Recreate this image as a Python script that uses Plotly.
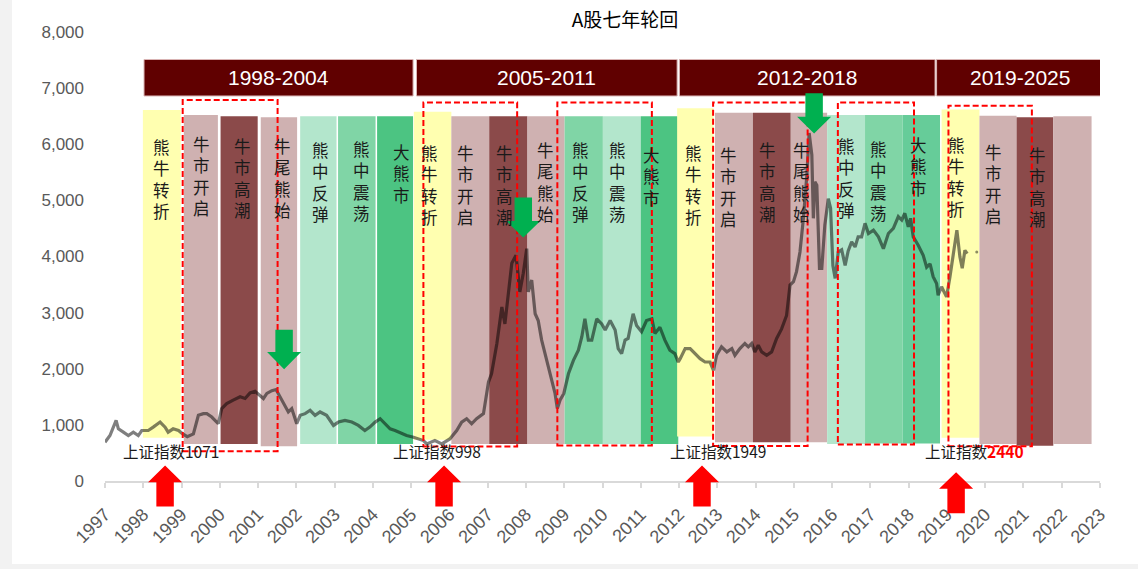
import plotly.graph_objects as go

# ---------------- data ----------------
index_dates = [
    1997.00, 1997.13, 1997.29, 1997.35, 1997.48, 1997.61, 1997.74, 1997.87, 1997.96,
    1998.13, 1998.26, 1998.44, 1998.57, 1998.65, 1998.78, 1998.92,
    1999.03, 1999.15, 1999.31, 1999.44, 1999.57, 1999.66, 1999.79, 1999.96,
    2000.05, 2000.18, 2000.35, 2000.53, 2000.66, 2000.79, 2000.92,
    2001.03, 2001.14, 2001.23, 2001.36, 2001.47, 2001.57, 2001.70, 2001.79, 2001.88,
    2002.01, 2002.10, 2002.23, 2002.36, 2002.49, 2002.62, 2002.79, 2002.97,
    2003.10, 2003.27, 2003.45, 2003.62, 2003.79, 2003.92,
    2004.06, 2004.19, 2004.32, 2004.45, 2004.58, 2004.75, 2004.88,
    2005.06, 2005.19, 2005.32, 2005.41, 2005.62, 2005.80,
    2006.01, 2006.19, 2006.32, 2006.45, 2006.58, 2006.71, 2006.89,
    2007.02, 2007.10, 2007.24, 2007.37, 2007.45, 2007.54, 2007.63, 2007.74, 2007.84, 2007.93,
    2008.02, 2008.06, 2008.15, 2008.24, 2008.32, 2008.41, 2008.50, 2008.58, 2008.67, 2008.76,
    2008.82, 2008.89, 2008.99,
    2009.11, 2009.24, 2009.37, 2009.46, 2009.54, 2009.63, 2009.72, 2009.85, 2009.98,
    2010.07, 2010.20, 2010.33, 2010.41, 2010.50, 2010.59, 2010.67, 2010.80, 2010.89,
    2011.02, 2011.15, 2011.29, 2011.37, 2011.50, 2011.63, 2011.76, 2011.89, 2011.98,
    2012.03, 2012.16, 2012.29, 2012.42, 2012.55, 2012.68, 2012.81, 2012.90, 2012.98,
    2013.11, 2013.25, 2013.38, 2013.46, 2013.59, 2013.72, 2013.81, 2013.90, 2013.98,
    2014.07, 2014.16, 2014.29, 2014.42, 2014.55, 2014.68, 2014.81, 2014.90, 2014.99,
    2015.07, 2015.16, 2015.25, 2015.34, 2015.40, 2015.47, 2015.51, 2015.55, 2015.60,
    2015.67, 2015.73, 2015.81, 2015.90, 2015.96,
    2016.02, 2016.08, 2016.16, 2016.25, 2016.34, 2016.42, 2016.51, 2016.60, 2016.68,
    2016.77, 2016.86, 2016.95,
    2017.08, 2017.21, 2017.34, 2017.47, 2017.60, 2017.73, 2017.82, 2017.90, 2017.99,
    2018.05, 2018.12, 2018.25, 2018.38, 2018.47, 2018.56, 2018.64, 2018.73, 2018.77,
    2018.86, 2018.99,
    2019.08, 2019.17, 2019.26, 2019.34, 2019.40, 2019.47, 2019.53,
]
index_values = [
    690, 810, 1080, 930, 870, 810, 870, 810, 900,
    900, 960, 1050, 960, 870, 930, 900,
    840, 790, 840, 1170, 1200, 1200, 1140, 1020,
    1290, 1380, 1440, 1500, 1470, 1570, 1600,
    1530, 1470, 1560, 1610, 1630, 1500, 1350, 1230, 1290,
    1020, 1170, 1200, 1260, 1170, 1230, 1170, 990,
    1050, 1080, 1050, 990, 900, 960,
    1050, 1110, 1020, 930, 900, 840, 810,
    780, 750, 720, 660, 720, 660,
    750, 900, 1050, 1110, 1020, 1110, 1200,
    1760, 1910, 2450, 3100, 2800, 3340, 3880, 4020, 3370, 3700,
    4140, 3370, 3580, 2980, 2860, 2510, 2270, 2030, 1790, 1560,
    1290, 1440, 1560,
    1910, 2150, 2330, 2570, 2890, 2510, 2510, 2890, 2800,
    2690, 2860, 2690, 2360, 2270, 2510, 2540, 2980, 2770,
    2660, 2860, 2890, 2630, 2740, 2510, 2330, 2270, 2120,
    2180, 2360, 2360, 2270, 2180, 2120, 2120, 1970, 2240,
    2390, 2300, 2360, 2240, 2360, 2450, 2390, 2450, 2300,
    2420, 2300, 2240, 2300, 2540, 2710, 2950, 3490, 3550,
    3730, 4080, 4680, 5450, 6200, 5810, 4680, 5330, 5270,
    3790, 3790, 4560, 5030, 4860,
    3840, 3610, 4080, 4120, 3840, 4100, 4260, 4170, 4350,
    4350, 4590, 4410,
    4470, 4350, 4140, 4410, 4500, 4710, 4650, 4770, 4530,
    4680, 4350, 4200, 4020, 3810, 3870, 3640, 3520, 3310,
    3460, 3280,
    3640, 4110, 4470, 3990, 3790, 4110, 4050,
]
last_date = [2019.78]
last_value = [4080]

phase_names = [
    "熊牛转折", "牛市开启", "牛市高潮", "牛尾熊始", "熊中反弹", "熊中震荡", "大熊市",
    "熊牛转折", "牛市开启", "牛市高潮", "牛尾熊始", "熊中反弹", "熊中震荡", "大熊市",
    "熊牛转折", "牛市开启", "牛市高潮", "牛尾熊始", "熊中反弹", "熊中震荡", "大熊市",
    "熊牛转折", "牛市开启", "牛市高潮", "",
]
phase_start = [
    1997.99, 1999.06, 2000.02, 2001.07, 2002.10, 2003.09, 2004.11,
    2005.07, 2006.05, 2007.04, 2008.04, 2009.01, 2010.01, 2011.00,
    2011.95, 2012.94, 2013.93, 2014.92, 2015.87, 2016.86, 2017.84,
    2018.86, 2019.85, 2020.82, 2021.78,
]
phase_end = [
    1998.98, 1999.95, 2000.99, 2002.02, 2003.05, 2004.07, 2005.05,
    2006.05, 2007.04, 2008.04, 2009.01, 2010.01, 2011.00, 2011.98,
    2012.90, 2013.93, 2014.92, 2015.87, 2016.86, 2017.84, 2018.82,
    2019.85, 2020.82, 2021.78, 2022.78,
]
phase_top = [
    6610, 6520, 6500, 6480, 6500, 6500, 6500,
    6580, 6500, 6500, 6500, 6500, 6500, 6500,
    6640, 6560, 6560, 6560, 6520, 6520, 6520,
    6620, 6510, 6480, 6500,
]
phase_bottom = [
    770, 660, 660, 620, 660, 660, 660,
    735, 660, 660, 660, 660, 660, 660,
    795, 690, 690, 690, 660, 670, 670,
    770, 660, 630, 660,
]
phase_colors = [
    "#FFFFB0", "#CFB1B1", "#8B4A4A", "#CFB1B1", "#B3E6CC", "#80D5A6", "#4CC482",
    "#FFFFB0", "#CFB1B1", "#8B4A4A", "#CFB1B1", "#80D5A6", "#B3E6CC", "#4CC482",
    "#FFFFB0", "#CFB1B1", "#8B4A4A", "#CFB1B1", "#B3E6CC", "#80D5A6", "#66CC99",
    "#FFFFB0", "#CFB1B1", "#8B4A4A", "#CFB1B1",
]
label_x = [
    1998.48, 1999.53, 2000.60, 2001.64, 2002.64, 2003.71, 2004.75,
    2005.49, 2006.43, 2007.43, 2008.50, 2009.43, 2010.40, 2011.29,
    2012.37, 2013.29, 2014.32, 2015.19, 2016.38, 2017.21, 2018.25,
    2019.25, 2020.21, 2021.36, 2022.30,
]
label_y = [
    5380, 5430, 5400, 5400, 5320, 5340, 5480,
    5270, 5270, 5270, 5320, 5320, 5320, 5430,
    5270, 5240, 5320, 5320, 5400, 5340, 5600,
    5420, 5300, 5230, 5300,
]

era_labels = ["1998-2004", "2005-2011", "2012-2018", "2019-2025"]
era_start = [1998.02, 2005.14, 2012.01, 2018.73]
era_end = [2005.05, 2011.95, 2018.69, 2023.07]
era_top = 7510
era_bottom = 6860

box_x0 = [1999.03, 2005.32, 2008.82, 2012.89, 2016.15, 2019.04]
box_x1 = [2001.51, 2007.77, 2011.29, 2015.36, 2018.14, 2021.22]
box_y0 = [532, 615, 633, 624, 651, 621]
box_y1 = [6790, 6745, 6745, 6745, 6745, 6685]

bottom_names = ["上证指数", "上证指数", "上证指数", "上证指数"]
bottom_points = ["1071", "998", "1949", "2440"]
bottom_x = [1998.72, 2005.67, 2013.02, 2019.72]
bottom_y = 526

red_arrow_x = [1998.57, 2005.86, 2012.60, 2019.24]
red_arrow_tip = [276, 276, 276, 157]
red_arrow_neck = [-21, -21, -21, -139]
red_arrow_tail = [-455, -455, -455, -574]

green_arrow_x = [2001.68, 2007.93, 2015.53]
green_arrow_tail = [2697, 5052, 6907]
green_arrow_neck = [2298, 4634, 6489]
green_arrow_tip = [1989, 4338, 6193]

years = list(range(1997, 2024))

# ---------------- figure ----------------
Y_MAX = 8000
HEAD_HW = 0.445
SHAFT_HW = 0.228
LATIN = "Liberation Sans, Arial, Noto Sans CJK SC, sans-serif"
CJK = "Noto Sans CJK SC, Liberation Sans, sans-serif"

fig = go.Figure()

fig.add_trace(go.Bar(
    x=[(s + e) / 2 for s, e in zip(phase_start, phase_end)],
    y=[t - b for t, b in zip(phase_top, phase_bottom)],
    base=phase_bottom,
    width=[e - s for s, e in zip(phase_start, phase_end)],
    marker=dict(color=phase_colors, line=dict(width=0)),
    hoverinfo="skip",
))

fig.add_trace(go.Scatter(
    x=index_dates, y=index_values, mode="lines",
    line=dict(color="rgba(0,0,0,0.5)", width=3.2),
    hoverinfo="skip",
))
fig.add_trace(go.Scatter(
    x=last_date, y=last_value, mode="markers",
    marker=dict(color="rgba(0,0,0,0.45)", size=3),
    hoverinfo="skip",
))

shapes = []
# white card behind the chart
shapes.append(dict(type="rect", xref="paper", yref="paper",
                   x0=(12 - 105) / 995, x1=(1138 - 105) / 995,
                   y0=(481 - 564) / 449, y1=481 / 449,
                   fillcolor="white", line=dict(width=0), layer="below"))
# era headers
for s, e in zip(era_start, era_end):
    shapes.append(dict(type="rect", xref="x", yref="y", x0=s, x1=e,
                       y0=era_bottom, y1=era_top, fillcolor="#600000",
                       line=dict(color="#d9b3b3", width=1)))
# dashed boxes
for x0, x1, y0, y1 in zip(box_x0, box_x1, box_y0, box_y1):
    shapes.append(dict(type="rect", xref="x", yref="y", x0=x0, x1=x1, y0=y0, y1=y1,
                       fillcolor="rgba(0,0,0,0)",
                       line=dict(color="#FF0000", width=2, dash="6px,3px")))


def up_arrow(cx, tip, neck, tail):
    return (f"M {cx - SHAFT_HW},{tail} L {cx - SHAFT_HW},{neck} L {cx - HEAD_HW},{neck} "
            f"L {cx},{tip} L {cx + HEAD_HW},{neck} L {cx + SHAFT_HW},{neck} "
            f"L {cx + SHAFT_HW},{tail} Z")


for cx, tip, neck, tail in zip(red_arrow_x, red_arrow_tip, red_arrow_neck, red_arrow_tail):
    shapes.append(dict(type="path", xref="x", yref="paper",
                       path=up_arrow(cx, tip / Y_MAX, neck / Y_MAX, tail / Y_MAX),
                       fillcolor="#FF0000", line=dict(width=0)))
for cx, tip, neck, tail in zip(green_arrow_x, green_arrow_tip, green_arrow_neck, green_arrow_tail):
    shapes.append(dict(type="path", xref="x", yref="y",
                       path=up_arrow(cx, tip, neck, tail),
                       fillcolor="#00B050", line=dict(width=0)))

annotations = []
for name, lx, ly in zip(phase_names, label_x, label_y):
    if not name:
        continue
    annotations.append(dict(x=lx, y=ly, xref="x", yref="y", showarrow=False,
                            text="<br>".join(name), xanchor="center", yanchor="middle",
                            font=dict(family=CJK, size=16.5, color="#1a1a1a")))
for lab, s, e in zip(era_labels, era_start, era_end):
    annotations.append(dict(x=(s + e) / 2, y=(era_top + era_bottom) / 2,
                            xref="x", yref="y", showarrow=False, text=lab,
                            font=dict(family=LATIN, size=21, color="white")))
for i, (nm, pt, bx) in enumerate(zip(bottom_names, bottom_points, bottom_x)):
    if i == len(bottom_points) - 1:
        txt = f"{nm}<b><span style='color:#FF0000'>{pt}</span></b>"
    else:
        txt = f"{nm}{pt}"
    annotations.append(dict(x=bx, y=bottom_y, xref="x", yref="y", showarrow=False,
                            text=txt, xanchor="center", yanchor="middle",
                            font=dict(family=CJK, size=15.5, color="#1a1a1a")))

fig.update_layout(
    width=1138, height=569,
    margin=dict(l=105, r=38, t=32, b=88),
    paper_bgcolor="#f2f2f2",
    plot_bgcolor="white",
    showlegend=False,
    title=dict(text="A股七年轮回", x=625 / 1138, xref="container", xanchor="center",
               y=1 - 20 / 569, yref="container", yanchor="middle",
               font=dict(family=CJK, size=19, color="#000000")),
    xaxis=dict(range=[1997, 2023], tickmode="array", tickvals=years,
               ticktext=[str(y) for y in years], tickangle=-45,
               tickfont=dict(family=LATIN, size=18, color="#595959"),
               showline=True, linecolor="#d9d9d9", linewidth=2,
               ticks="outside", ticklen=5, tickcolor="#d9d9d9", tickwidth=1.5,
               ticklabelstandoff=9,
               showgrid=False, zeroline=False, fixedrange=True),
    yaxis=dict(range=[0, Y_MAX], dtick=1000, tickformat=",",
               tickfont=dict(family=LATIN, size=17, color="#595959"),
               showgrid=False, zeroline=False, showline=False,
               ticks="", ticklabelstandoff=20, fixedrange=True),
    shapes=shapes,
    annotations=annotations,
)

fig.write_html("out.html")
